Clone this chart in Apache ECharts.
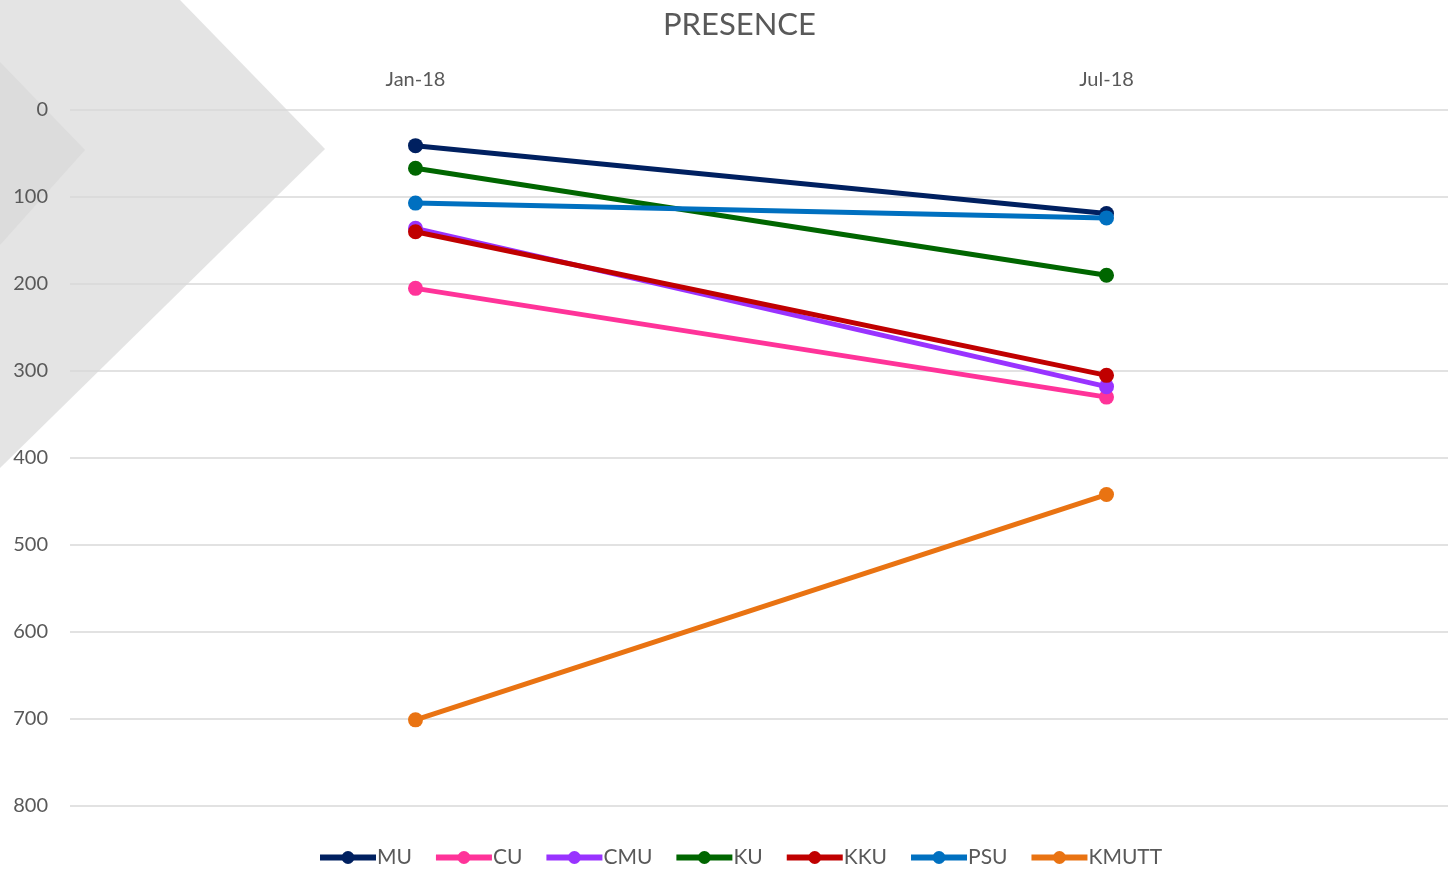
<!DOCTYPE html>
<html>
<head>
<meta charset="utf-8">
<script src="https://cdn.jsdelivr.net/npm/echarts@6/dist/echarts.min.js"></script>
<style>
html,body{margin:0;padding:0;background:#fff;overflow:hidden;}
#main{width:1452px;height:870px;}
</style>
</head>
<body>
<div id="main"></div>
<script>
// data
var periods = ['Jan-18', 'Jul-18'];
var names = ['MU', 'CU', 'CMU', 'KU', 'KKU', 'PSU', 'KMUTT'];
var colors = ['#002060', '#ff3399', '#9933ff', '#006600', '#c00000', '#0070c0', '#e97312'];
var MU = [41, 119];
var CU = [205, 330];
var CMU = [136, 318];
var KU = [67, 190];
var KKU = [140, 305];
var PSU = [107, 124];
var KMUTT = [701, 442];
var values = [MU, CU, CMU, KU, KKU, PSU, KMUTT];

var chart = echarts.init(document.getElementById('main'));

var series = [];
for (var i = 0; i < names.length; i++) {
    series.push({
        name: names[i],
        type: 'line',
        data: values[i],
        symbol: 'circle',
        symbolSize: 15,
        color: colors[i],
        lineStyle: { width: 5, color: colors[i] },
        itemStyle: { color: colors[i] },
        z: 3 + i
    });
}

var option = {
    backgroundColor: '#ffffff',
    textStyle: { fontFamily: 'Lato, "Open Sans", sans-serif' },
    // gray chevrons in the corner
    graphic: [
        {
            type: 'polygon', z: -10, silent: true,
            shape: { points: [[0, 0], [180, 0], [325, 149], [0, 468]] },
            style: { fill: '#e4e4e4' }
        },
        {
            type: 'polygon', z: -9, silent: true,
            shape: { points: [[0, 62], [85, 150], [0, 245]] },
            style: { fill: '#dcdcdc' }
        }
    ],
    title: {
        text: 'PRESENCE',
        left: 658,
        top: 4,
        textStyle: { fontSize: 31, fontWeight: 'normal', color: '#595959' }
    },
    legend: {
        bottom: -3,
        left: 312,
        itemWidth: 56,
        itemHeight: 16,
        itemGap: 21,
        data: names,
        lineStyle: { width: 6 },
        textStyle: { fontSize: 21, color: '#595959', padding: [0, 0, 0, -4] }
    },
    grid: {
        left: 70,
        right: 0,
        top: 110,
        bottom: 64
    },
    xAxis: {
        type: 'category',
        position: 'top',
        data: periods,
        boundaryGap: true,
        axisLine: { show: false },
        axisTick: { show: false },
        axisLabel: { fontSize: 20, color: '#595959', margin: 20 }
    },
    yAxis: {
        type: 'value',
        inverse: true,
        min: 0,
        max: 800,
        interval: 100,
        axisLine: { show: false },
        axisTick: { show: false },
        axisLabel: { fontSize: 20, color: '#595959', margin: 22 },
        splitLine: { lineStyle: { color: '#d9d9d9', width: 1.5 } }
    },
    series: series
};
chart.setOption(option);
</script>
</body>
</html>
